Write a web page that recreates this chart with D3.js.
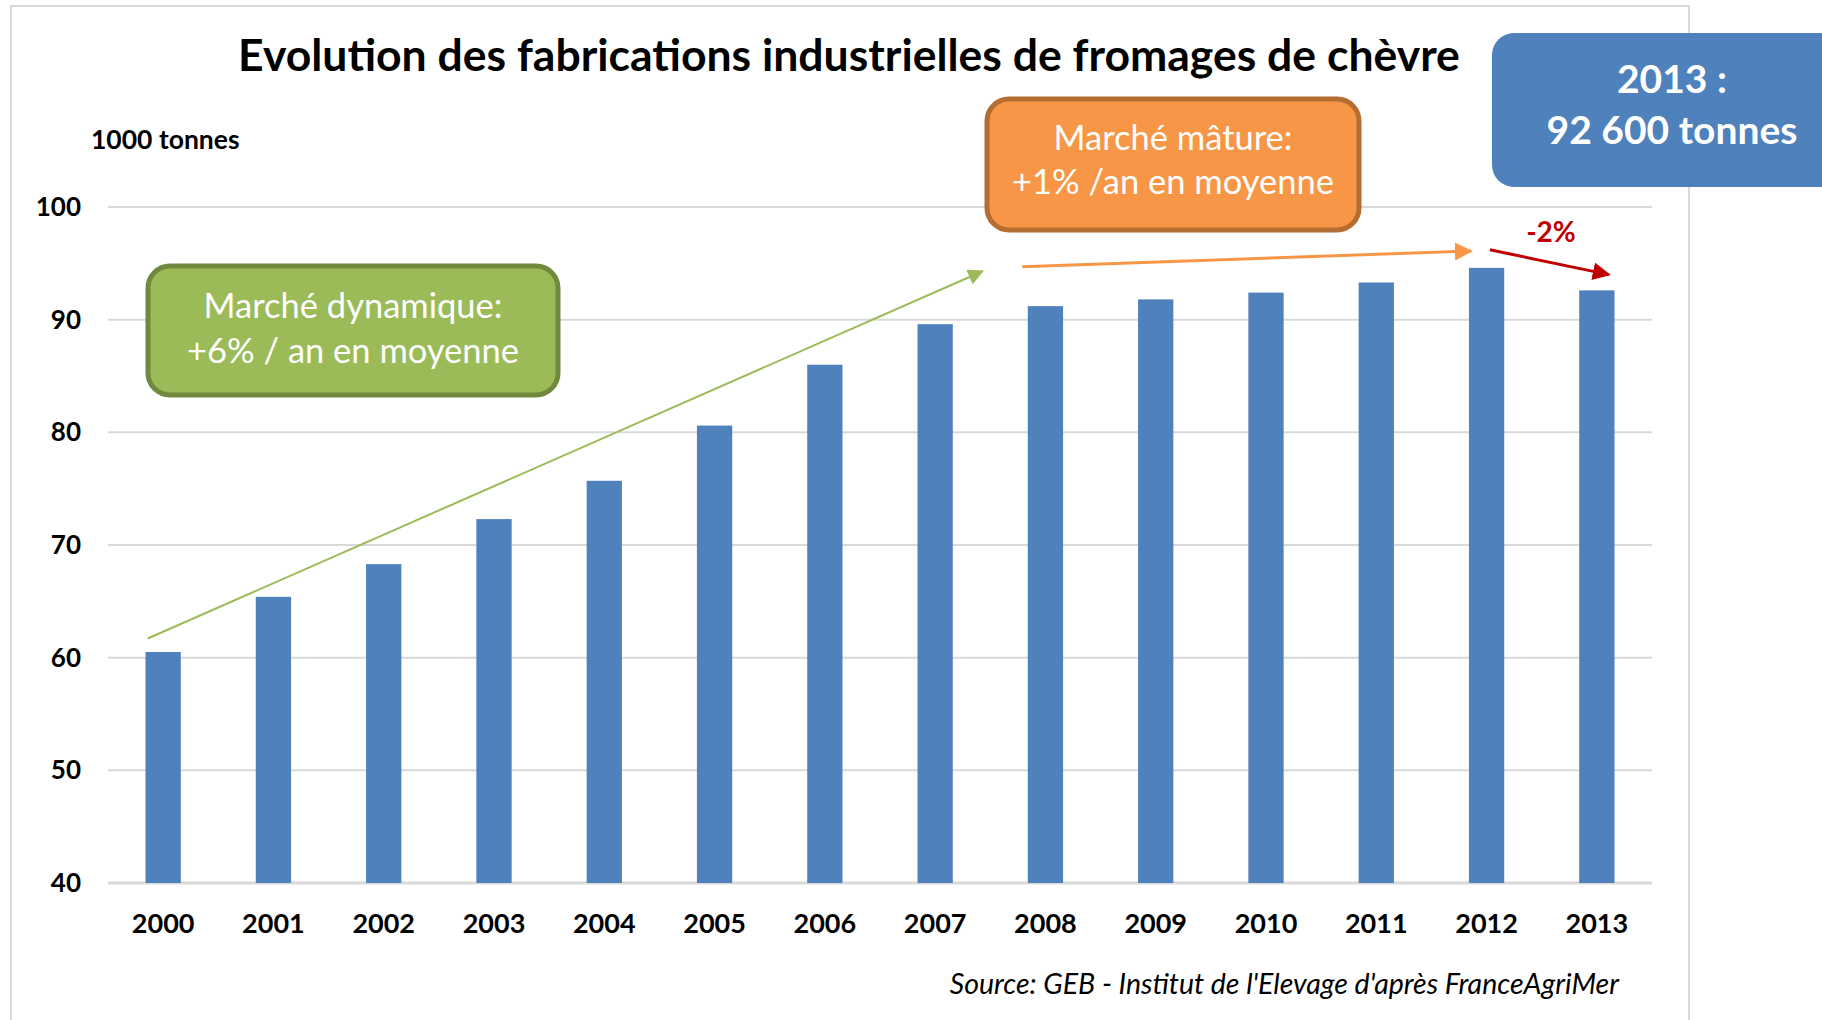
<!DOCTYPE html>
<meta charset="utf-8">
<script src="https://d3js.org/d3.v7.min.js"></script>
<style>
  body { margin: 0; background: #fff; }
  svg text { font-family: Lato, "Open Sans", sans-serif; }
</style>
<div id="chart"></div>
<script>
// data (1000 tonnes)
var years = ["2000","2001","2002","2003","2004","2005","2006","2007","2008","2009","2010","2011","2012","2013"];
var production = [60.5, 65.4, 68.3, 72.3, 75.7, 80.6, 86.0, 89.6, 91.2, 91.8, 92.4, 93.3, 94.6, 92.6];
var yTicks = [40, 50, 60, 70, 80, 90, 100];

// trend arrows, in (year index, value) units
var arrows = [
  {x1: -0.14, y1: 61.7, x2: 7.43, y2: 94.3, color: "#9BBB59", w: 2},
  {x1: 7.79, y1: 94.7, x2: 11.86, y2: 96.1, color: "#F79646", w: 3},
  {x1: 12.03, y1: 96.2, x2: 13.11, y2: 94.0, color: "#C00000", w: 3}
];

var W = 1822, H = 1020;
var svg = d3.select("#chart").append("svg").attr("width", W).attr("height", H);

// outer frame
svg.append("rect").attr("x", 11).attr("y", 6).attr("width", 1678).attr("height", 1030)
  .attr("fill", "#fff").attr("stroke", "#D9D9D9").attr("stroke-width", 2);

var margin = {left: 108, right: 1652, top: 207, bottom: 883};

var x = d3.scaleBand().domain(years).range([margin.left, margin.right]).paddingInner(0.68).paddingOuter(0.34);
var y = d3.scaleLinear().domain([40, 100]).range([margin.bottom, margin.top]);
var xi = d3.scaleLinear().domain([0, 1]).range([x(years[0]) + x.bandwidth() / 2, x(years[1]) + x.bandwidth() / 2]);

// gridlines
svg.append("g").selectAll("line").data(yTicks).enter().append("line")
  .attr("x1", margin.left).attr("x2", margin.right)
  .attr("y1", d => y(d)).attr("y2", d => y(d))
  .attr("stroke", "#D9D9D9").attr("stroke-width", d => d == 40 ? 3 : 2);

// y tick labels
svg.append("g").selectAll("text").data(yTicks).enter().append("text")
  .attr("x", 81).attr("y", d => y(d) + 9)
  .attr("text-anchor", "end").attr("font-weight", "bold").attr("font-size", 26)
  .text(d => d);

// bars
svg.append("g").selectAll("rect").data(production).enter().append("rect")
  .attr("x", (d, i) => x(years[i]))
  .attr("y", d => y(d))
  .attr("width", x.bandwidth())
  .attr("height", d => y(40) - y(d))
  .attr("fill", "#4F81BD");

// x labels
svg.append("g").selectAll("text").data(years).enter().append("text")
  .attr("x", d => x(d) + x.bandwidth() / 2).attr("y", 933)
  .attr("text-anchor", "middle").attr("font-weight", "bold").attr("font-size", 27)
  .text(d => d);

// title & labels
svg.append("text").attr("x", 849).attr("y", 71).attr("text-anchor", "middle")
  .attr("font-weight", "bold").attr("font-size", 44.5)
  .text("Evolution des fabrications industrielles de fromages de chèvre");

svg.append("text").attr("x", 91).attr("y", 149).attr("font-weight", "bold").attr("font-size", 26.5)
  .text("1000 tonnes");

svg.append("text").attr("x", 1619).attr("y", 994).attr("text-anchor", "end")
  .attr("font-style", "italic").attr("font-size", 28.5)
  .text("Source: GEB - Institut de l'Elevage d'après FranceAgriMer");

// arrow markers
var defs = svg.append("defs");
arrows.forEach(function(a, i) {
  defs.append("marker").attr("id", "arr" + i)
    .attr("viewBox", "0 0 10 10").attr("refX", 9).attr("refY", 5)
    .attr("markerWidth", a.w == 2 ? 8 : 6).attr("markerHeight", a.w == 2 ? 8 : 6)
    .attr("markerUnits", "strokeWidth").attr("orient", "auto")
    .append("path").attr("d", "M0,0L10,5L0,10z").attr("fill", a.color);
});
svg.append("g").selectAll("line").data(arrows).enter().append("line")
  .attr("x1", d => xi(d.x1)).attr("y1", d => y(d.y1))
  .attr("x2", d => xi(d.x2)).attr("y2", d => y(d.y2))
  .attr("stroke", d => d.color).attr("stroke-width", d => d.w)
  .attr("marker-end", (d, i) => "url(#arr" + i + ")");

svg.append("text").attr("x", 1551).attr("y", 242).attr("text-anchor", "middle")
  .attr("font-weight", "bold").attr("font-size", 28).attr("fill", "#C00000")
  .text("-2%");

// callout boxes
function box(x0, y0, w, h, fill, stroke, lines, size, weight, ys) {
  svg.append("rect").attr("x", x0).attr("y", y0).attr("width", w).attr("height", h)
    .attr("rx", 22).attr("fill", fill)
    .attr("stroke", stroke || "none").attr("stroke-width", stroke ? 5 : 0);
  lines.forEach(function(t, i) {
    svg.append("text").attr("x", x0 + w / 2).attr("y", ys[i]).attr("text-anchor", "middle")
      .attr("fill", "#fff").attr("font-size", size).attr("font-weight", weight).text(t);
  });
}
box(148, 266, 410, 129, "#9BBB59", "#71893F", ["Marché dynamique:", "+6% / an en moyenne"], 34.5, "normal", [318, 363]);
box(987, 99, 372, 131, "#F79646", "#B66D31", ["Marché mâture:", "+1% /an en moyenne"], 34.5, "normal", [150, 194]);
box(1492, 33, 360, 154, "#4F81BD", null, ["2013 :", "92 600 tonnes"], 39, "bold", [93, 144]);
</script>
